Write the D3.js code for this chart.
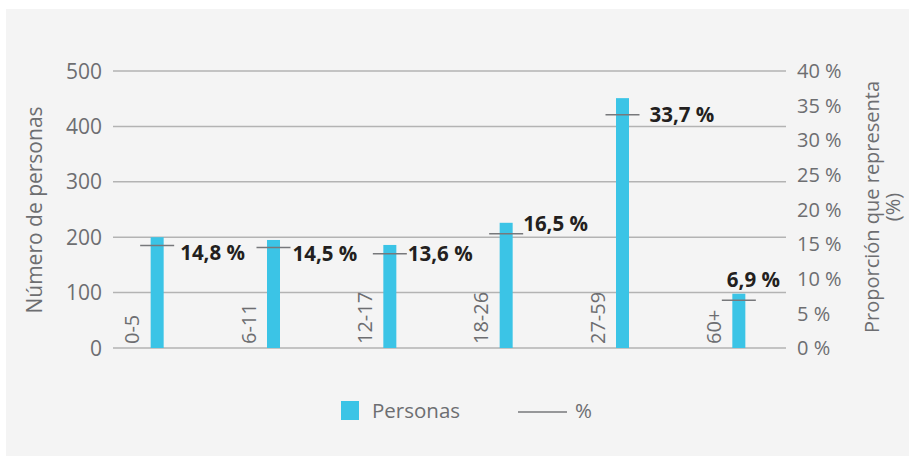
<!DOCTYPE html>
<html>
<head>
<meta charset="utf-8">
<script src="https://cdn.jsdelivr.net/npm/d3@7"></script>
<style>
  html, body { margin: 0; padding: 0; background: #fff; }
  svg text { font-family: "Open Sans", sans-serif; }
</style>
</head>
<body>
<svg id="chart" width="909" height="456"></svg>
<script>
// data
var categories = ["0-5", "6-11", "12-17", "18-26", "27-59", "60+"];
var personas = [200, 195, 186, 226, 451, 98];
var porcentaje = [14.8, 14.5, 13.6, 16.5, 33.7, 6.9];
var leftTicks = [0, 100, 200, 300, 400, 500];
var rightTicks = [0, 5, 10, 15, 20, 25, 30, 35, 40];

// hand placed label offsets (relative to bar centre / marker line), like the original
var labelDx = [23, 19, 18, 17, 27, -12];
var labelDy = [7, 6, 0, -10, 0, -21];

var svg = d3.select("svg#chart");

// panel background
svg.append("rect")
    .attr("x", 6).attr("y", 9)
    .attr("width", 909).attr("height", 456)
    .attr("fill", "#f4f4f4");

var gridLeft = 113, gridRight = 786;

var x = d3.scaleBand()
    .domain(categories)
    .range([99, 797]);

var y = d3.scaleLinear()
    .domain([0, 500])
    .range([348, 71]);

var y2 = d3.scaleLinear()
    .domain([0, 40])
    .range([348, 71]);

function cx(d) { return x(d) + x.bandwidth() / 2; }

// grid lines
svg.append("g")
  .selectAll("line")
  .data(leftTicks)
  .join("line")
    .attr("x1", gridLeft).attr("x2", gridRight)
    .attr("y1", function(d) { return y(d); })
    .attr("y2", function(d) { return y(d); })
    .attr("stroke", "#b3b3b3")
    .attr("stroke-width", 1.5);

// left axis labels
svg.append("g")
  .selectAll("text")
  .data(leftTicks)
  .join("text")
    .attr("x", 102)
    .attr("y", function(d) { return y(d); })
    .attr("dy", "0.36em")
    .attr("text-anchor", "end")
    .attr("fill", "#6d6e71")
    .style("font-size", "21px")
    .text(function(d) { return d; });

// right axis labels
svg.append("g")
  .selectAll("text")
  .data(rightTicks)
  .join("text")
    .attr("x", 797)
    .attr("y", function(d) { return y2(d); })
    .attr("dy", "0.36em")
    .attr("fill", "#6d6e71")
    .style("font-size", "20px")
    .text(function(d) { return d + " %"; });

// axis titles
svg.append("text")
    .attr("transform", "translate(42,210) rotate(-90)")
    .attr("text-anchor", "middle")
    .attr("fill", "#6d6e71")
    .style("font-size", "21px")
    .text("Número de personas");

var rt = svg.append("text")
    .attr("transform", "translate(879,207) rotate(-90)")
    .attr("text-anchor", "middle")
    .attr("fill", "#6d6e71")
    .style("font-size", "20px");
rt.append("tspan").attr("x", 0).attr("dy", 0).text("Proporción que representa");
rt.append("tspan").attr("x", 0).attr("dy", "1.05em").text("(%)");

// bars
svg.append("g")
  .selectAll("rect")
  .data(categories)
  .join("rect")
    .attr("x", function(d) { return cx(d) - 6.5; })
    .attr("y", function(d, i) { return y(personas[i]); })
    .attr("width", 13)
    .attr("height", function(d, i) { return y(0) - y(personas[i]); })
    .attr("fill", "#3bc4e6");

// category labels, rotated, left of each bar
svg.append("g")
  .selectAll("text")
  .data(categories)
  .join("text")
    .attr("transform", function(d) { return "translate(" + (cx(d) - 18) + ",344) rotate(-90)"; })
    .attr("fill", "#6d6e71")
    .style("font-size", "20px")
    .text(function(d) { return d; });

// percentage markers
svg.append("g")
  .selectAll("line")
  .data(categories)
  .join("line")
    .attr("x1", function(d) { return cx(d) - 17; })
    .attr("x2", function(d) { return cx(d) + 17; })
    .attr("y1", function(d, i) { return y2(porcentaje[i]); })
    .attr("y2", function(d, i) { return y2(porcentaje[i]); })
    .attr("stroke", "#77787b")
    .attr("stroke-width", 1.5);

// percentage labels
svg.append("g")
  .selectAll("text")
  .data(categories)
  .join("text")
    .attr("x", function(d, i) { return cx(d) + labelDx[i]; })
    .attr("y", function(d, i) { return y2(porcentaje[i]) + labelDy[i]; })
    .attr("dy", "0.36em")
    .attr("fill", "#231f20")
    .style("font-size", "20.5px")
    .style("font-weight", "bold")
    .text(function(d, i) { return String(porcentaje[i]).replace(".", ",") + " %"; });

// legend
var legend = svg.append("g");
legend.append("rect")
    .attr("x", 341).attr("y", 401)
    .attr("width", 18).attr("height", 19)
    .attr("fill", "#3bc4e6");
legend.append("text")
    .attr("x", 372).attr("y", 411)
    .attr("dy", "0.36em")
    .attr("fill", "#6d6e71")
    .style("font-size", "20.5px")
    .text("Personas");
legend.append("line")
    .attr("x1", 518).attr("x2", 567)
    .attr("y1", 412).attr("y2", 412)
    .attr("stroke", "#77787b")
    .attr("stroke-width", 1.5);
legend.append("text")
    .attr("x", 575).attr("y", 411)
    .attr("dy", "0.36em")
    .attr("fill", "#6d6e71")
    .style("font-size", "20.5px")
    .text("%");
</script>
</body>
</html>
